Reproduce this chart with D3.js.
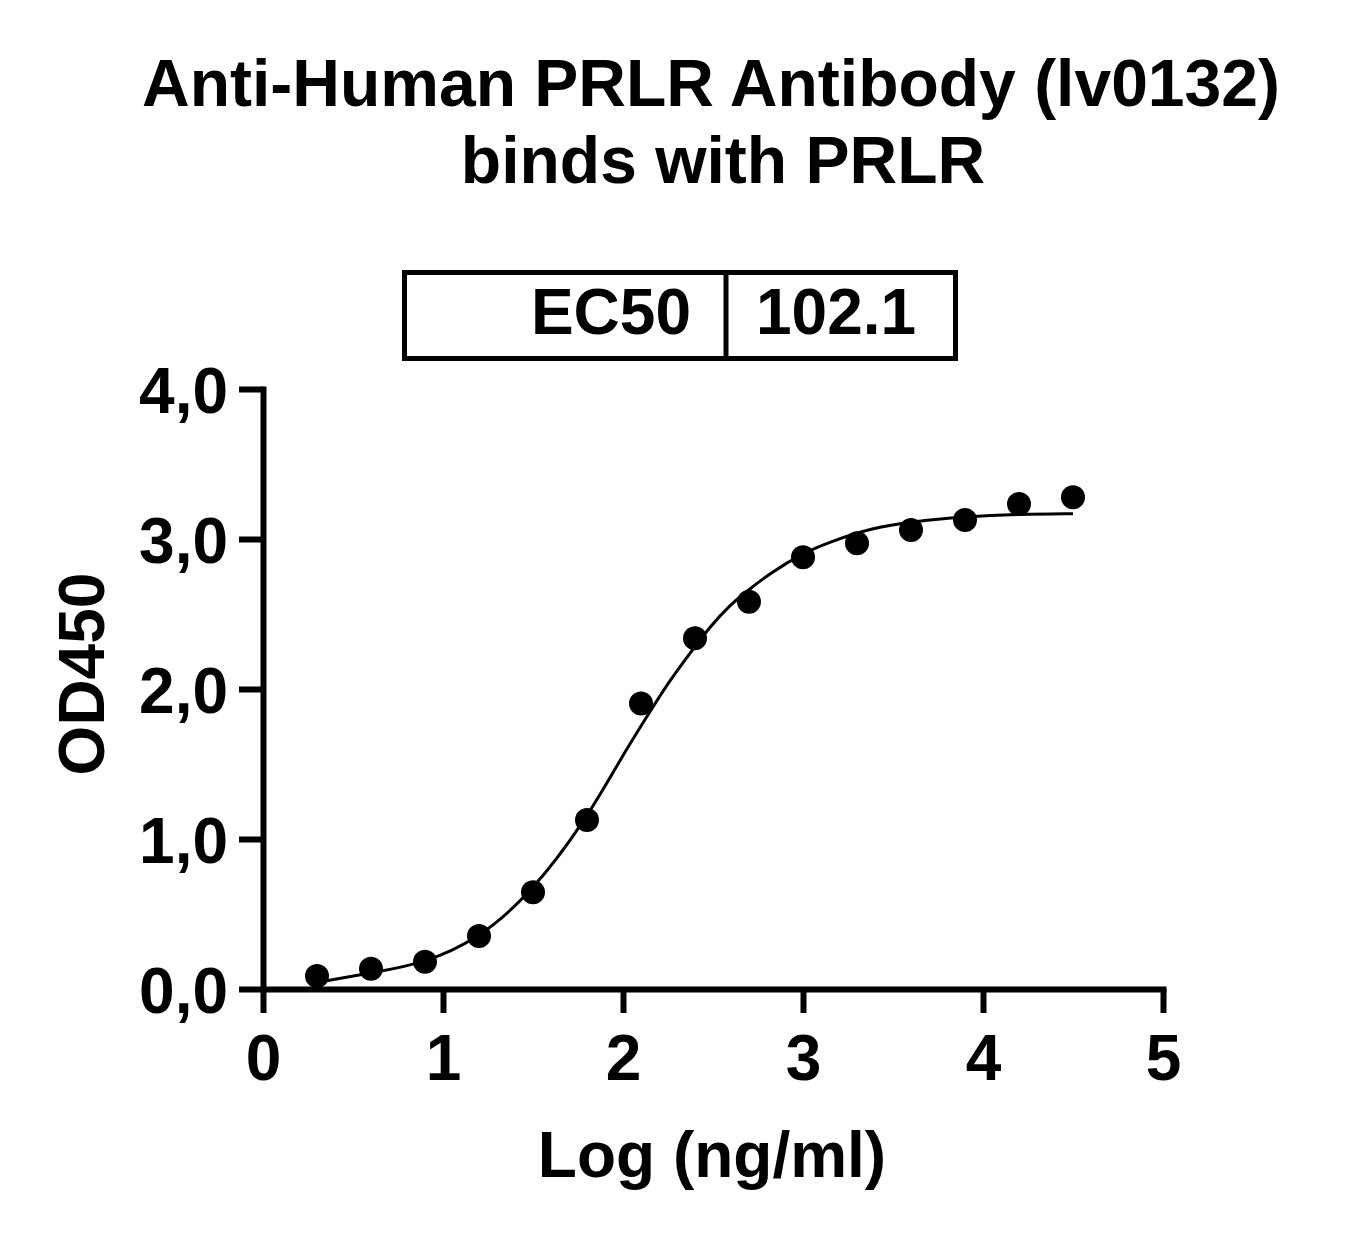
<!DOCTYPE html>
<html>
<head>
<meta charset="utf-8">
<script src="https://cdn.jsdelivr.net/npm/d3@7"></script>
<style>
  html, body { margin: 0; padding: 0; background: #fff; }
  svg { display: block; }
  text { font-family: "Liberation Sans", Arial, Helvetica, sans-serif; font-weight: bold; fill: #000; }
</style>
</head>
<body>
<script>
// ---- data ----
const titleLines = ["Anti-Human PRLR Antibody (lv0132)", "binds with PRLR"];
const xTitle = "Log (ng/ml)";
const yTitle = "OD450";
const ec50Label = "EC50";
const ec50Value = "102.1";
const xTicks = [0, 1, 2, 3, 4, 5];
const yTicks = [0, 1, 2, 3, 4];
const yTickLabels = ["0,0", "1,0", "2,0", "3,0", "4,0"];
const logConc = [0.3, 0.6, 0.9, 1.2, 1.5, 1.8, 2.1, 2.4, 2.7, 3.0, 3.3, 3.6, 3.9, 4.2, 4.5];
const od450 = [0.087, 0.135, 0.182, 0.353, 0.645, 1.127, 1.903, 2.338, 2.582, 2.878, 2.971, 3.06, 3.127, 3.233, 3.278];
// fitted curve
const fitX = [0.3, 0.354, 0.594, 0.894, 1.19, 1.49, 1.79, 1.983, 2.132, 2.261, 2.372, 2.483, 2.594, 2.696, 2.817, 2.998, 3.15, 3.391, 3.594, 3.9, 4.206, 4.5];
const fitY = [0.047, 0.055, 0.105, 0.171, 0.327, 0.638, 1.12, 1.527, 1.815, 2.06, 2.238, 2.415, 2.56, 2.66, 2.771, 2.905, 2.982, 3.075, 3.115, 3.149, 3.165, 3.169];

// ---- layout ----
const W = 1362, H = 1237;
const svg = d3.select("body").append("svg").attr("width", W).attr("height", H);

const x = d3.scaleLinear().domain([0, 5]).range([263, 1163]);
const y = d3.scaleLinear().domain([0, 4]).range([989, 389]);

// title
svg.append("text").attr("x", 711).attr("y", 106).attr("text-anchor", "middle")
  .attr("font-size", 66).text(titleLines[0]);
svg.append("text").attr("x", 723).attr("y", 183).attr("text-anchor", "middle")
  .attr("font-size", 66).text(titleLines[1]);

// EC50 box
const box = svg.append("g");
box.append("rect").attr("x", 404.5).attr("y", 272.5).attr("width", 551).attr("height", 86)
  .attr("fill", "none").attr("stroke", "#000").attr("stroke-width", 5);
box.append("line").attr("x1", 726).attr("x2", 726).attr("y1", 272.5).attr("y2", 358.5)
  .attr("stroke", "#000").attr("stroke-width", 5);
box.append("text").attr("x", 691).attr("y", 334).attr("text-anchor", "end")
  .attr("font-size", 64).text(ec50Label);
box.append("text").attr("x", 756).attr("y", 334).attr("text-anchor", "start")
  .attr("font-size", 64).text(ec50Value);

// axes
const yAxis = d3.axisLeft(y).tickValues(yTicks).tickSize(24).tickSizeOuter(0)
  .tickPadding(11).tickFormat((d, i) => yTickLabels[i]);
const gy = svg.append("g").attr("transform", `translate(${x(0)},0)`).call(yAxis);
const xAxis = d3.axisBottom(x).tickValues(xTicks).tickSize(24).tickSizeOuter(0)
  .tickPadding(22).tickFormat(d3.format("d"));
const gx = svg.append("g").attr("transform", `translate(0,${y(0)})`).call(xAxis);

[gx, gy].forEach(g => {
  g.select(".domain").attr("stroke", "#000").attr("stroke-width", 6).attr("stroke-linecap", "square");
  g.selectAll(".tick line").attr("stroke", "#000").attr("stroke-width", 6);
  g.selectAll(".tick text").attr("font-size", 64)
    .attr("font-family", "'Liberation Sans', Arial, sans-serif").attr("font-weight", "bold").attr("fill", "#000");
});
gy.selectAll(".tick text").attr("dy", "0.36em");
gx.selectAll(".tick text").attr("dy", "0.71em");

// axis titles
svg.append("text").attr("x", 712).attr("y", 1177).attr("text-anchor", "middle")
  .attr("font-size", 64).text(xTitle);
svg.append("text").attr("transform", "translate(104,674) rotate(-90)").attr("text-anchor", "middle")
  .attr("font-size", 64).text(yTitle);

// fitted curve
const fitData = fitX.map((v, i) => [v, fitY[i]]);
svg.append("path").datum(fitData)
  .attr("fill", "none").attr("stroke", "#000").attr("stroke-width", 3)
  .attr("d", d3.line().x(d => x(d[0])).y(d => y(d[1])).curve(d3.curveBasis));

// points
const pts = logConc.map((v, i) => [v, od450[i]]);
svg.append("g").selectAll("circle").data(pts).join("circle")
  .attr("cx", d => x(d[0])).attr("cy", d => y(d[1])).attr("r", 12).attr("fill", "#000");
</script>
</body>
</html>
